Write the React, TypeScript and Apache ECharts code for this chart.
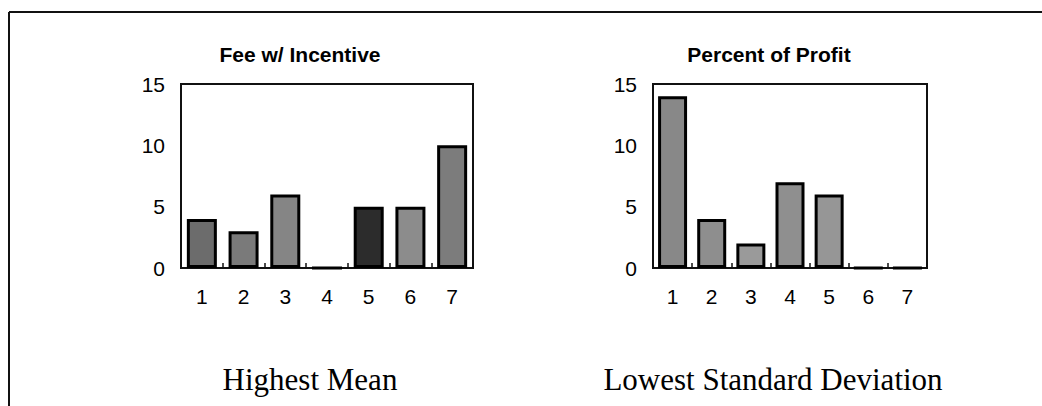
import React, { useEffect, useRef } from "react";
import * as echarts from "echarts";

const categories = ["1", "2", "3", "4", "5", "6", "7"];
const feeIncentive = [4, 3, 6, 0, 5, 5, 10];
const percentProfit = [14, 4, 2, 7, 6, 0, 0];
const yTicks = { min: 0, max: 15, interval: 5 };
const titleLeft = "Fee w/ Incentive";
const titleRight = "Percent of Profit";
const captionLeft = "Highest Mean";
const captionRight = "Lowest Standard Deviation";

const leftColors = ["#6c6c6c", "#7a7a7a", "#858585", "#8a8a8a", "#2c2c2c", "#8c8c8c", "#7c7c7c"];
const rightColors = ["#888888", "#8e8e8e", "#9a9a9a", "#8f8f8f", "#969696", "#999999", "#999999"];

export default function App() {
  const ref = useRef<HTMLDivElement>(null);
  useEffect(() => {
    if (!ref.current) return;
    const chart = echarts.init(ref.current, null, { renderer: "svg" });
    const labelStyle = { color: "#000", fontSize: 21, fontFamily: "Liberation Sans" };
    const xAxisBase = (gridIndex: number) => ({
      type: "category" as const,
      gridIndex,
      data: categories,
      axisLine: { show: true, lineStyle: { color: "#111", width: 2 } },
      axisTick: { show: true, inside: true, length: 5, lineStyle: { color: "#111", width: 1.5 } },
      axisLabel: { color: "#000", fontSize: 21, fontFamily: "Liberation Sans", margin: 18 },
      splitLine: { show: false },
    });
    const yAxisBase = (gridIndex: number) => ({
      type: "value" as const,
      gridIndex,
      ...yTicks,
      axisLine: { show: true, lineStyle: { color: "#111", width: 2 } },
      axisTick: { show: false },
      axisLabel: { ...labelStyle, margin: 16 },
      splitLine: { show: false },
    });
    const mkData = (vals: number[], colors: string[]) =>
      vals.map((v, i) => ({ value: v, itemStyle: { color: colors[i] } }));
    chart.setOption({
      animation: false,
      backgroundColor: "#fff",
      grid: [
        { left: 181, top: 84, width: 292, height: 184, show: true, borderColor: "#111", borderWidth: 2, containLabel: false },
        { left: 653, top: 84, width: 274, height: 184, show: true, borderColor: "#111", borderWidth: 2, containLabel: false },
      ],
      xAxis: [xAxisBase(0), xAxisBase(1)],
      yAxis: [yAxisBase(0), yAxisBase(1)],
      series: [
        {
          type: "bar",
          xAxisIndex: 0,
          yAxisIndex: 0,
          data: mkData(feeIncentive, leftColors),
          barWidth: 30,
          itemStyle: { borderColor: "#000", borderWidth: 3 },
        },
        {
          type: "bar",
          xAxisIndex: 1,
          yAxisIndex: 1,
          data: mkData(percentProfit, rightColors),
          barWidth: 29,
          itemStyle: { borderColor: "#000", borderWidth: 3 },
        },
      ],
      graphic: [
        { type: "line", shape: { x1: 9, y1: 12, x2: 1042, y2: 12 }, style: { stroke: "#111", lineWidth: 2 } },
        { type: "line", shape: { x1: 9, y1: 12, x2: 9, y2: 406 }, style: { stroke: "#111", lineWidth: 2 } },
        {
          type: "text", x: 300, y: 54,
          style: { text: titleLeft, fill: "#000", font: "bold 21px 'Liberation Sans', Arial, sans-serif", textAlign: "center", textVerticalAlign: "middle" },
        },
        {
          type: "text", x: 769, y: 54,
          style: { text: titleRight, fill: "#000", font: "bold 21px 'Liberation Sans', Arial, sans-serif", textAlign: "center", textVerticalAlign: "middle" },
        },
        {
          type: "text", x: 310, y: 379,
          style: { text: captionLeft, fill: "#000", font: "31px 'Liberation Serif', 'Times New Roman', serif", textAlign: "center", textVerticalAlign: "middle" },
        },
        {
          type: "text", x: 773, y: 379,
          style: { text: captionRight, fill: "#000", font: "31px 'Liberation Serif', 'Times New Roman', serif", textAlign: "center", textVerticalAlign: "middle" },
        },
      ],
    });
    return () => chart.dispose();
  }, []);
  return <div ref={ref} style={{ position: "fixed", left: 0, top: 0, width: 1042, height: 406 }} />;
}
